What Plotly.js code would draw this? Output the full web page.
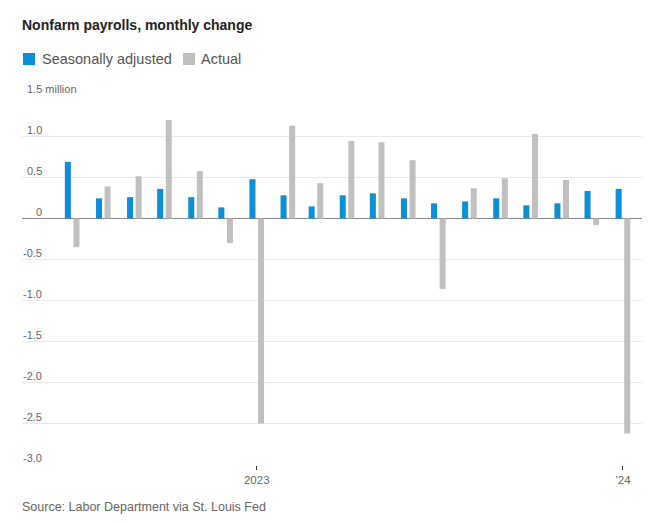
<!DOCTYPE html>
<html>
<head>
<meta charset="utf-8">
<script src="https://cdn.plot.ly/plotly-3.0.1.min.js"></script>
<style>html,body{margin:0;padding:0;background:#fff;}#chart{width:659px;height:523px;}</style>
</head>
<body>
<div id="chart"></div>
<script>
// Months (first of month), July 2022 – January 2024
const months = ["2022-07-01","2022-08-01","2022-09-01","2022-10-01","2022-11-01","2022-12-01",
  "2023-01-01","2023-02-01","2023-03-01","2023-04-01","2023-05-01","2023-06-01",
  "2023-07-01","2023-08-01","2023-09-01","2023-10-01","2023-11-01","2023-12-01","2024-01-01"];
// Monthly change, millions of jobs
const seasonallyAdjusted = [0.69,0.245,0.26,0.36,0.26,0.135,0.478,0.282,0.147,0.282,0.306,0.245,0.184,0.208,0.245,0.16,0.184,0.335,0.36];
const actual = [-0.35,0.39,0.515,1.20,0.577,-0.30,-2.50,1.13,0.43,0.945,0.93,0.71,-0.86,0.368,0.49,1.03,0.47,-0.08,-2.62];
const seriesNames = ["Seasonally adjusted","Actual"];
const yTickVals = [-3.0,-2.5,-2.0,-1.5,-1.0,-0.5,0,0.5,1.0,1.5];
const yTickText = ["-3.0","-2.5","-2.0","-1.5","-1.0","-0.5","0","0.5","1.0","1.5 million"];
const xTickVals = ["2023-01-01","2024-01-01"];
const xTickText = ["2023","\u201924"];
const titleText = "Nonfarm payrolls, monthly change";
const sourceText = "Source: Labor Department via St. Louis Fed";

const BLUE = "#0b8fd6", GRAY = "#c0c0c0";
const FONT = "Liberation Sans, Arial, sans-serif";
const L = 22, R = 17, T = 95, B = 58, W = 659, H = 523;
const pw = W - L - R, ph = H - T - B;
const px = v => (v - L) / pw;           // page x -> paper x
const py = v => (H - B - v) / ph;       // page y -> paper y

const traces = [
  {type:"bar", x:months, y:seasonallyAdjusted, name:seriesNames[0], marker:{color:BLUE}, hoverinfo:"x+y"},
  {type:"bar", x:months, y:actual, name:seriesNames[1], marker:{color:GRAY}, hoverinfo:"x+y"}
];

const annotations = [];
yTickVals.forEach((v,i) => {
  const last = i === yTickVals.length - 1;
  annotations.push({xref:"paper", yref:"y", x:last ? px(25) : px(44), y:v,
    xanchor:last ? "left" : "right", yanchor:"middle", yshift:6.5,
    text:yTickText[i], showarrow:false, font:{family:FONT, size:11, color:"#666"}});
});
// title
annotations.push({xref:"paper", yref:"paper", x:px(20), y:py(25), xanchor:"left", yanchor:"middle",
  text:"<b>"+titleText+"</b>", showarrow:false, font:{family:FONT, size:14, color:"#222"}});
// legend text
annotations.push({xref:"paper", yref:"paper", x:px(40), y:py(59), xanchor:"left", yanchor:"middle",
  text:seriesNames[0], showarrow:false, font:{family:FONT, size:14.5, color:"#555"}});
annotations.push({xref:"paper", yref:"paper", x:px(199), y:py(59), xanchor:"left", yanchor:"middle",
  text:seriesNames[1], showarrow:false, font:{family:FONT, size:14.5, color:"#555"}});
// source
annotations.push({xref:"paper", yref:"paper", x:px(20), y:py(507), xanchor:"left", yanchor:"middle",
  text:sourceText, showarrow:false, font:{family:FONT, size:12.5, color:"#666"}});

const shapes = [
  {type:"rect", xref:"paper", yref:"paper", x0:px(23), x1:px(35), y0:py(65), y1:py(53), fillcolor:BLUE, line:{width:0}},
  {type:"rect", xref:"paper", yref:"paper", x0:px(183), x1:px(195), y0:py(65), y1:py(53), fillcolor:GRAY, line:{width:0}}
];

const layout = {
  width:W, height:H,
  margin:{l:L, r:R, t:T, b:B, pad:0},
  paper_bgcolor:"#fff", plot_bgcolor:"#fff",
  showlegend:false,
  barmode:"group", bargap:0.388, bargroupgap:0.30,
  font:{family:FONT, color:"#666"},
  xaxis:{type:"date", range:["2022-05-12","2024-01-20"], tickmode:"array", tickvals:xTickVals, ticktext:xTickText,
    ticks:"outside", ticklen:4, tickwidth:1, tickcolor:"#333", showgrid:false, zeroline:false, showline:false,
    tickfont:{family:FONT, size:11.5, color:"#666"}, fixedrange:true},
  yaxis:{range:[-3.005,1.505], tickmode:"array", tickvals:yTickVals, showticklabels:false, ticks:"",
    showgrid:true, gridcolor:"#e9e9e9", gridwidth:1.5, zeroline:true, zerolinecolor:"#888", zerolinewidth:1.5,
    showline:false, fixedrange:true},
  annotations:annotations,
  shapes:shapes
};
Plotly.newPlot("chart", traces, layout, {displayModeBar:false, staticPlot:true});
</script>
</body>
</html>
